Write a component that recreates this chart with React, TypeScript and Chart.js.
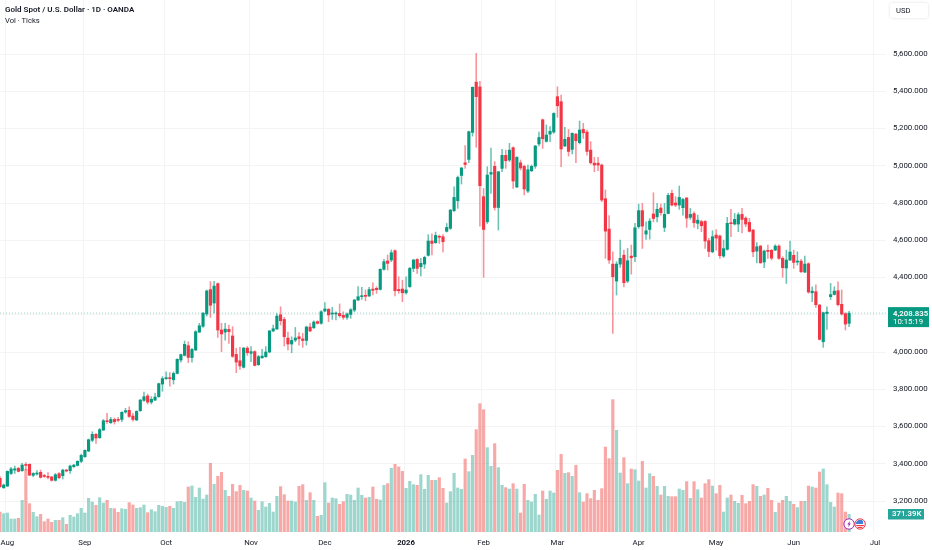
import React, { useEffect, useRef } from "react";
import { Chart, registerables } from "chart.js";

Chart.register(...registerables);

const opens = [3322,3271,3280,3348,3366,3375,3363,3393,3397,3338,3345,3354,3336,3332,3329,3311,3347,3336,3364,3363,3384,3391,3413,3438,3468,3526,3558,3540,3581,3629,3620,3638,3638,3638,3678,3687,3656,3635,3685,3740,3764,3731,3742,3760,3828,3857,3860,3851,3885,3957,3982,4034,3970,4011,4107,4138,4204,4335,4263,4367,4118,4107,4122,4086,
3987,3953,3918,4021,3993,4002,3932,3969,3975,4000,4113,4123,4200,4175,4075,4043,4064,4082,4070,4062,4134,4130,4163,4154,4220,4229,4204,4204,4207,4197,4186,4202,4225,4279,4297,4304,4301,4338,4342,4336,4444,4489,4494,4544,4336,4338,4318,4351,4449,4497,4458,4472,4519,4596,4587,4621,4619,
4648,4664,4759,4812,4948,5016,5034,5179,5449,5423,4834,4699,4955,4997,4776,4986,5056,5031,5097,4886,5016,4997,4864,4973,4998,5117,5247,5131,5170,5181,5371,5344,5106,5152,5088,5170,5124,5195,5181,5084,5014,5014,5004,4823,4660,4472,4381,4472,4520,4381,4515,4512,4673,4759,4633,4658,4741,4726,4773,4669,4744,
4852,4800,4789,4775,4827,4723,4743,4691,4700,4701,4598,4538,4628,4623,4515,4551,4691,4687,4687,4739,4719,4696,4655,4542,4569,4483,4546,4546,4547,4569,4503,4451,4494,4519,4483,4488,4429,4474,4318,4324,4252,4055,4207,4297,4309,4329,4256,4206,4154];

const highs = [3331,3291,3362,3381,3388,3381,3402,3406,3400,3352,3363,3366,3343,3352,3332,3348,3352,3370,3370,3393,3397,3416,3452,3475,3533,3572,3563,3590,3638,3671,3649,3646,3649,3680,3698,3705,3671,3685,3746,3785,3774,3760,3778,3833,3868,3894,3889,3893,3964,3989,4059,4055,4020,4115,4154,4213,4333,4378,4379,4372,4154,4154,4145,4136,
4020,4025,4025,4029,4029,4007,3982,4014,4029,4116,4145,4207,4243,4186,4107,4082,4132,4104,4100,4139,4154,4168,4168,4222,4265,4234,4240,4216,4258,4216,4211,4233,4283,4351,4347,4333,4347,4372,4351,4447,4497,4521,4548,4548,4404,4386,4404,4455,4497,4501,4503,4515,4630,4634,4644,4628,4630,
4690,4766,4887,4945,4991,5109,5186,5424,5603,5453,4878,4995,5095,5022,4968,5088,5084,5120,5102,5049,5031,5004,5004,5004,5109,5181,5251,5219,5210,5285,5424,5380,5206,5195,5177,5174,5240,5228,5192,5129,5045,5045,5009,4870,4733,4538,4485,4601,4547,4556,4574,4691,4794,4798,4699,4717,4855,4798,4794,4798,4852,
4870,4834,4891,4825,4830,4771,4753,4735,4708,4705,4610,4651,4658,4628,4601,4723,4766,4744,4748,4771,4726,4717,4658,4587,4572,4547,4574,4551,4576,4576,4512,4547,4596,4547,4538,4497,4515,4479,4350,4361,4256,4214,4243,4368,4350,4377,4333,4211,4218];

const lows = [3273,3268,3278,3341,3348,3356,3359,3366,3336,3330,3339,3323,3327,3318,3307,3307,3318,3318,3356,3348,3381,3388,3406,3434,3465,3518,3509,3536,3578,3617,3617,3613,3626,3626,3671,3649,3628,3631,3681,3735,3721,3721,3739,3757,3789,3853,3817,3828,3882,3946,3978,3943,3946,4007,4104,4132,4193,4186,4208,4079,4002,4064,4046,3971,
3889,3907,3914,3982,3948,3925,3928,3966,3971,3996,4109,4122,4145,4032,4011,3996,4055,4037,4025,4037,4109,4127,4150,4150,4216,4163,4175,4172,4186,4175,4175,4181,4216,4275,4283,4275,4297,4306,4315,4333,4440,4440,4485,4301,4315,4270,4311,4347,4431,4422,4408,4449,4515,4521,4583,4583,4537,
4644,4658,4753,4771,4902,4986,5016,5159,5099,4676,4401,4690,4852,4762,4655,4968,4986,5022,4878,4882,4977,4843,4855,4968,4986,5106,5093,5127,5129,5174,5260,4995,5102,5052,5063,5016,5117,5147,5057,5009,4968,4973,4807,4503,4476,4100,4306,4454,4350,4372,4418,4485,4664,4556,4605,4606,4699,4699,4735,4646,4741,
4784,4780,4766,4735,4669,4712,4669,4662,4646,4556,4512,4533,4547,4503,4508,4547,4619,4682,4646,4640,4673,4644,4512,4479,4476,4453,4503,4494,4544,4497,4401,4368,4490,4449,4467,4426,4426,4315,4270,4240,4064,4025,4121,4282,4306,4247,4198,4118,4136];

const closes = [3277,3286,3359,3372,3373,3359,3393,3391,3339,3348,3350,3327,3332,3327,3311,3341,3325,3366,3361,3388,3393,3413,3445,3472,3529,3558,3538,3583,3631,3626,3638,3626,3633,3676,3685,3654,3638,3681,3742,3760,3731,3746,3758,3830,3857,3862,3857,3885,3961,3986,4041,3971,4014,4109,4141,4208,4328,4251,4354,4118,4097,4123,4109,3977,
3946,3925,4021,3996,4002,3928,3975,3978,4000,4113,4125,4193,4168,4082,4043,4062,4075,4071,4062,4134,4113,4161,4154,4216,4231,4199,4207,4207,4195,4186,4204,4227,4279,4297,4302,4299,4335,4331,4335,4444,4485,4476,4533,4329,4329,4318,4333,4449,4494,4449,4476,4508,4596,4583,4626,4616,4592,
4669,4762,4830,4937,4988,5007,5183,5421,5371,4893,4658,4950,4964,4776,4968,5056,5027,5084,4918,5045,4988,4875,4979,4997,5106,5152,5145,5165,5185,5281,5322,5090,5142,5077,5174,5134,5192,5177,5077,5016,5004,5004,4816,4649,4494,4404,4472,4503,4372,4490,4506,4667,4759,4676,4651,4703,4717,4766,4748,4739,4841,
4789,4789,4830,4819,4719,4739,4694,4708,4678,4596,4540,4619,4612,4517,4555,4691,4689,4712,4737,4712,4687,4648,4538,4565,4479,4542,4540,4504,4569,4503,4453,4494,4537,4481,4488,4431,4472,4322,4327,4254,4068,4211,4214,4308,4327,4254,4204,4150,4208.835];

const volumesK = [420,385,399,273,273,287,665,1316,595,413,322,371,217,273,203,245,245,301,161,350,315,385,497,399,707,630,560,721,609,665,497,490,413,490,476,616,567,497,511,567,406,469,427,560,539,518,539,497,637,644,623,945,966,728,924,693,777,1442,1001,1169,1253,875,749,1001,
847,980,875,861,714,651,455,637,525,602,420,749,952,784,651,651,630,959,994,665,826,665,329,350,1036,609,714,700,581,637,791,777,665,924,770,714,728,945,686,672,980,1015,1337,1421,1365,1274,917,1064,994,980,1204,896,1190,1085,1085,1141,917,609,847,1232,924,896,1533,1267,1610,2149,2695,2569,1771,1379,1855,1351,980,931,903,1015,903,399,1001,665,630,791,357,861,686,861,819,1295,1631,1232,1246,1169,1400,826,
630,805,700,875,665,910,1785,1540,2779,2135,1239,1561,1015,1323,1309,1071,1484,924,1225,1169,959,777,959,749,742,742,903,875,1057,707,1057,889,714,1015,1099,966,805,980,420,714,777,644,602,770,595,644,994,959,749,777,917,665,413,609,665,749,644,581,511,644,644,966,945,924,1260,1323,994,623,525,819,805,420,371.39];

const monthLabels = ["Aug","Sep","Oct","Nov","Dec","2026","Feb","Mar","Apr","May","Jun","Jul"];
const monthIndex = [2,23,45,68,88,110,131,151,173,194,215,237];
const AXIS_SLOTS = 241;
const LAST_PRICE = 4208.835;
const TOP_PRICE_TICK = 5600;
const PRICE_TICK_STEP = 200;
const TITLE = "Gold Spot / U.S. Dollar · 1D · OANDA";
const SUBTITLE = "Vol · Ticks";
const CURRENCY = "USD";
const COUNTDOWN = "10:15:19";
const VOLUME_TAG = "371.39K";

const UP = "#089981";
const DOWN = "#F23645";
const UP_WICK = "rgba(8,153,129,0.6)";
const DOWN_WICK = "rgba(242,54,69,0.55)";
const UP_VOL = "rgba(8,153,129,0.4)";
const DOWN_VOL = "rgba(239,83,80,0.5)";
const TEXT = "#131722";
const FONT = "Roboto, sans-serif";

const overlay = {
  id: "overlay",
  afterDatasetsDraw(chart: any) {
    const { ctx, chartArea, scales } = chart;
    const py = scales.y.getPixelForValue(LAST_PRICE);
    const right = chartArea.right;
    ctx.save();
    // last price line
    ctx.strokeStyle = "rgba(8,153,129,0.6)";
    ctx.lineWidth = 0.7;
    ctx.setLineDash([1, 2]);
    ctx.beginPath();
    ctx.moveTo(0, py);
    ctx.lineTo(right, py);
    ctx.stroke();
    ctx.setLineDash([]);

    // header
    ctx.fillStyle = TEXT;
    ctx.textBaseline = "middle";
    ctx.textAlign = "left";
    ctx.font = "600 8px " + FONT;
    ctx.fillText(TITLE, 5, 10);
    ctx.font = "7.6px " + FONT;
    ctx.fillText(SUBTITLE, 5, 21);

    // currency button
    ctx.save();
    ctx.shadowColor = "rgba(0,0,0,0.14)";
    ctx.shadowBlur = 3;
    ctx.fillStyle = "#fff";
    ctx.beginPath();
    ctx.roundRect(890, 3, 38, 15, 2);
    ctx.fill();
    ctx.restore();
    ctx.fillStyle = TEXT;
    ctx.font = "7.6px " + FONT;
    ctx.fillText(CURRENCY, 896, 11);

    // price tag
    ctx.fillStyle = UP;
    ctx.fillRect(888, py - 6, 41, 20);
    ctx.fillStyle = "#fff";
    ctx.font = "600 7.8px " + FONT;
    ctx.fillText(LAST_PRICE.toLocaleString("en-US", { minimumFractionDigits: 3 }), 893, py + 0.5);
    ctx.font = "7.8px " + FONT;
    ctx.fillText(COUNTDOWN, 893, py + 9);

    // volume tag
    ctx.fillStyle = "#26a69a";
    ctx.fillRect(888, 509, 36, 10.5);
    ctx.fillStyle = "#fff";
    ctx.font = "600 7.8px " + FONT;
    ctx.fillText(VOLUME_TAG, 892, 514.5);

    // event markers
    const lastX = scales.x.getPixelForValue(opens.length - 1);
    const by = 524;
    ctx.lineWidth = 1;
    ctx.fillStyle = "#fff";
    ctx.strokeStyle = "#9c27b0";
    ctx.beginPath();
    ctx.arc(lastX, by, 5.2, 0, Math.PI * 2);
    ctx.fill();
    ctx.stroke();
    ctx.fillStyle = "#9c27b0";
    ctx.beginPath();
    ctx.moveTo(lastX + 1, by - 3.2);
    ctx.lineTo(lastX - 1.8, by + 0.6);
    ctx.lineTo(lastX - 0.2, by + 0.6);
    ctx.lineTo(lastX - 1, by + 3.2);
    ctx.lineTo(lastX + 1.8, by - 0.6);
    ctx.lineTo(lastX + 0.2, by - 0.6);
    ctx.closePath();
    ctx.fill();

    const fx = lastX + 11;
    ctx.fillStyle = "#fff";
    ctx.strokeStyle = "#f23645";
    ctx.beginPath();
    ctx.arc(fx, by, 5.2, 0, Math.PI * 2);
    ctx.fill();
    ctx.stroke();
    ctx.save();
    ctx.beginPath();
    ctx.arc(fx, by, 4.2, 0, Math.PI * 2);
    ctx.clip();
    ctx.fillStyle = "#f23645";
    ctx.fillRect(fx - 5, by + 1, 10, 1.2);
    ctx.fillRect(fx - 5, by + 3, 10, 1.2);
    ctx.fillStyle = "#3d7fd9";
    ctx.fillRect(fx - 5, by - 5, 8, 5);
    ctx.restore();
    ctx.restore();
  },
};

const noAxisPadding = (s: any) => {
  s.paddingLeft = 0;
  s.paddingRight = 0;
  s.paddingTop = 0;
  s.paddingBottom = 0;
};

export default function App() {
  const ref = useRef<HTMLCanvasElement | null>(null);
  useEffect(() => {
    document.body.style.margin = "0";
    document.body.style.background = "#fff";
    const isUp = opens.map((o, i) => closes[i] >= o);
    const chart = new Chart(ref.current as HTMLCanvasElement, {
      type: "bar",
      data: {
        labels: Array.from({ length: AXIS_SLOTS }, (_, i) => String(i)),
        datasets: [
          {
            label: "Body",
            yAxisID: "y",
            order: 1,
            grouped: false,
            barThickness: 2.5,
            minBarLength: 1,
            backgroundColor: isUp.map((u) => (u ? UP : DOWN)),
            data: opens.map((o, i) => [o, closes[i]]),
          },
          {
            label: "Wick",
            yAxisID: "y",
            order: 2,
            grouped: false,
            barThickness: 0.9,
            backgroundColor: isUp.map((u) => (u ? UP_WICK : DOWN_WICK)),
            data: lows.map((l, i) => [l, highs[i]]),
          },
          {
            label: "Vol",
            yAxisID: "vol",
            order: 3,
            grouped: false,
            barThickness: 2.5,
            backgroundColor: isUp.map((u) => (u ? UP_VOL : DOWN_VOL)),
            data: volumesK,
          },
        ] as any,
      },
      options: {
        responsive: false,
        animation: false,
        layout: { padding: 0 },
        plugins: { legend: { display: false }, tooltip: { enabled: false } },
        scales: {
          x: {
            type: "category",
            offset: false,
            border: { display: false },
            afterFit: (s: any) => { s.height = 18; noAxisPadding(s); },
            grid: {
              drawTicks: false,
              color: (c: any) => (monthIndex.includes(c.index) ? "#f4f4f5" : "transparent"),
            },
            ticks: {
              autoSkip: false,
              maxRotation: 0,
              minRotation: 0,
              padding: 6,
              color: TEXT,
              font: (c: any) => ({
                family: FONT,
                size: 7.8,
                weight: c.tick && c.tick.label === "2026" ? 700 : 400,
              }),
              callback: (_v: any, i: number) => {
                const k = monthIndex.indexOf(i);
                return k >= 0 ? monthLabels[k] : "";
              },
            },
          },
          y: {
            position: "right",
            min: 3033.6,
            max: 5890,
            border: { display: false },
            afterFit: (s: any) => { s.width = 46; noAxisPadding(s); },
            afterBuildTicks: (s: any) => {
              s.ticks = s.ticks.filter((t: any) => t.value <= TOP_PRICE_TICK);
            },
            grid: { drawTicks: false, color: "#f4f4f5" },
            ticks: {
              stepSize: PRICE_TICK_STEP,
              includeBounds: false,
              padding: 7,
              color: TEXT,
              font: { family: FONT, size: 7.9 },
              callback: (v: any) =>
                Number(v).toLocaleString("en-US", { minimumFractionDigits: 3 }),
            },
          },
          vol: {
            display: false,
            min: 0,
            max: 11172,
            afterFit: noAxisPadding,
          },
        },
      } as any,
      plugins: [overlay],
    });
    return () => chart.destroy();
  }, []);
  return (
    <canvas ref={ref} width={932} height={550} style={{ display: "block", width: 932, height: 550 }} />
  );
}
